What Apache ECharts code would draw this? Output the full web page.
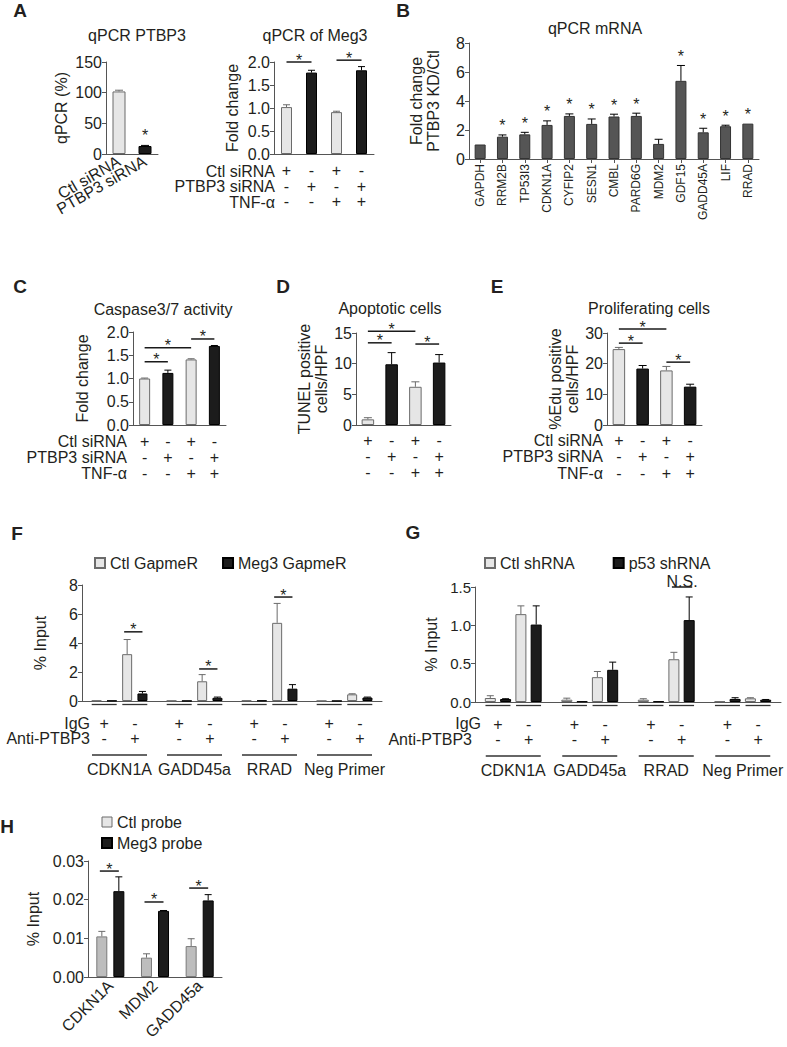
<!DOCTYPE html>
<html><head><meta charset="utf-8">
<script src="https://cdn.jsdelivr.net/npm/echarts/dist/echarts.min.js"></script>
<style>html,body{margin:0;padding:0;background:#fff}#c{width:787px;height:1047px}</style>
</head><body><div id="c"></div>
<script>
// ---------------- DATA ----------------
const a1Cats = ['Ctl siRNA', 'PTBP3 siRNA'];
const a1Vals = [102, 13];
const a1Err = [2, 1];
const a1Stars = ['', '*'];

const condCtl = ['+', '-', '+', '-'];
const condPTBP3 = ['-', '+', '-', '+'];
const condTNF = ['-', '-', '+', '+'];
const condRowNames = ['Ctl siRNA', 'PTBP3 siRNA', 'TNF-α'];

const a2Vals = [1.02, 1.77, 0.91, 1.82];
const a2Err = [0.05, 0.05, 0.02, 0.08];
const a2Sig = [[0, 1, 2.0], [2, 3, 2.04]];

const bGenes = ['GAPDH', 'RRM2B', 'TP53I3', 'CDKN1A', 'CYFIP2', 'SESN1', 'CMBL', 'PARD6G', 'MDM2', 'GDF15', 'GADD45A', 'LIF', 'RRAD'];
const bVals = [1.0, 1.54, 1.70, 2.35, 2.97, 2.42, 2.93, 2.97, 1.04, 5.39, 1.84, 2.26, 2.44];
const bErr = [0, 0.12, 0.14, 0.28, 0.14, 0.34, 0.16, 0.19, 0.32, 1.06, 0.28, 0.07, 0];
const bStars = ['', '*', '*', '*', '*', '*', '*', '*', '', '*', '*', '*', '*'];

const cVals = [1.0, 1.12, 1.41, 1.70];
const cErr = [0.01, 0.06, 0.015, 0.01];
const cSig = [[0, 1, 1.36], [0, 2, 1.66], [2, 3, 1.85]];

const dVals = [0.92, 9.9, 6.23, 10.18];
const dErr = [0.27, 1.9, 0.81, 1.3];
const dSig = [[0, 1, 13.4], [0, 2, 15.3], [2, 3, 13.2]];

const eVals = [24.75, 18.4, 17.8, 12.5];
const eErr = [0.55, 1.0, 1.3, 0.8];
const eSig = [[0, 1, 26.7], [0, 2, 31.3], [2, 3, 20.5]];

const chipGenes = ['CDKN1A', 'GADD45a', 'RRAD', 'Neg Primer'];
const chipIgG = ['+', '-'];
const chipAnti = ['-', '+'];
const chipRowNames = ['IgG', 'Anti-PTBP3'];

const fLegend = ['Ctl GapmeR', 'Meg3 GapmeR'];
const fIgGCtl = [0.03, 0.02, 0.04, 0.01];
const fIgGCtlErr = [0, 0, 0, 0];
const fIgGMeg3 = [0.02, 0.01, 0.03, 0.005];
const fIgGMeg3Err = [0, 0, 0, 0];
const fAntiCtl = [3.23, 1.36, 5.39, 0.46];
const fAntiCtlErr = [1.01, 0.46, 1.34, 0.04];
const fAntiMeg3 = [0.52, 0.22, 0.85, 0.24];
const fAntiMeg3Err = [0.14, 0.05, 0.28, 0.03];
const fSig = [[0, 4.77], [1, 2.21], [2, 7.17]];

const gLegend = ['Ctl shRNA', 'p53 shRNA'];
const gIgGCtl = [0.052, 0.03, 0.03, 0.008];
const gIgGCtlErr = [0.03, 0.02, 0.013, 0];
const gIgGP53 = [0.039, 0.008, 0.008, 0.04];
const gIgGP53Err = [0.004, 0, 0, 0.016];
const gAntiCtl = [1.146, 0.324, 0.558, 0.048];
const gAntiCtlErr = [0.108, 0.074, 0.09, 0.008];
const gAntiP53 = [1.01, 0.42, 1.068, 0.03];
const gAntiP53Err = [0.244, 0.1, 0.302, 0.003];
const gSig = [[2, 1.5, 'N.S.']];

const hCats = ['CDKN1A', 'MDM2', 'GADD45a'];
const hLegend = ['Ctl probe', 'Meg3 probe'];
const hCtl = [0.0105, 0.005, 0.008];
const hCtlErr = [0.0013, 0.001, 0.0019];
const hMeg3 = [0.0222, 0.0171, 0.0198];
const hMeg3Err = [0.0037, 0.0001, 0.0015];
const hSig = [[0, 0.0274], [1, 0.0194], [2, 0.0230]];

// ---------------- STYLE ----------------
const FONT = '"Liberation Sans", Arial, Helvetica, sans-serif';
const TXT = '#231f20';
const AX = '#555555';
const LIGHT = {color: '#e6e6e6', borderColor: '#6b6b6b', borderWidth: 1};
const DARK = {color: '#1c1c1c', borderColor: '#000000', borderWidth: 1};
const HLIGHT = {color: '#bdbdbd', borderColor: '#7a7a7a', borderWidth: 1};
const BSTYLE = {color: '#555555', borderColor: '#333333', borderWidth: 1};
const ERR_L = '#6b6b6b', ERR_D = '#000000';

const chart = echarts.init(document.getElementById('c'), null, {renderer: 'svg', width: 787, height: 1047});

function grid(left, top, width, height) {
  return {left, top, width, height, containLabel: false, outerBoundsMode: 'none'};
}
const grids = [
  grid(106, 62, 52, 92),   // 0 A1
  grid(274, 62, 100, 92),  // 1 A2
  grid(469, 43, 290, 116), // 2 B
  grid(133, 332, 93, 93),  // 3 C
  grid(356, 333, 95, 92),  // 4 D
  grid(607, 333, 95, 92),  // 5 E
  grid(82, 585, 300, 116), // 6 F
  grid(475, 587, 306, 115),// 7 G
  grid(88, 861, 134, 116)  // 8 H
];

function yAx(gi, min, max, interval, name, nameGap, fmt, fs) {
  return {
    type: 'value', gridIndex: gi, min, max, interval,
    axisLine: {show: true, lineStyle: {color: AX, width: 1}},
    axisTick: {show: true, length: 4, lineStyle: {color: AX}},
    splitLine: {show: false},
    axisLabel: {color: TXT, fontSize: fs || 16, fontFamily: FONT, margin: 4, showMinLabel: true, showMaxLabel: true,
      formatter: fmt || (v => String(v))},
    name, nameGap, nameLocation: 'middle', nameRotate: 90,
    nameTextStyle: {color: TXT, fontSize: 16, fontFamily: FONT, lineHeight: 17}
  };
}
function xAx(gi, cats, label, tick) {
  return {
    type: 'category', gridIndex: gi, data: cats, boundaryGap: true,
    axisLine: {show: true, lineStyle: {color: AX, width: 1}},
    axisTick: tick || {show: false},
    axisLabel: label || {show: false},
    splitLine: {show: false}
  };
}
function condLabel(margin, lh) {
  return {show: true, interval: 0, margin, lineHeight: lh, color: TXT, fontSize: 16, fontFamily: FONT,
    formatter: (v, i) => [condCtl[i], condPTBP3[i], condTNF[i]].join('\n')};
}
const condIdx = condCtl.map((_, i) => String(i));

const xAxes = [
  xAx(0, a1Cats, {show: true, interval: 0, rotate: 30, margin: 6, color: TXT, fontSize: 16, fontFamily: FONT}),
  xAx(1, condIdx, condLabel(9, 15.5)),
  xAx(2, bGenes, {show: true, interval: 0, rotate: 90, margin: 5, color: TXT, fontSize: 12, fontFamily: FONT},
      {show: true, alignWithLabel: true, length: 4, lineStyle: {color: AX}}),
  xAx(3, condIdx, condLabel(8, 16)),
  xAx(4, condIdx, condLabel(7, 16)),
  xAx(5, condIdx, condLabel(7, 16.5)),
  xAx(6, chipGenes),
  xAx(7, chipGenes),
  xAx(8, hCats, {show: true, interval: 0, rotate: 45, margin: 6, color: TXT, fontSize: 16, fontFamily: FONT})
];
const yAxes = [
  yAx(0, 0, 150, 50, 'qPCR (%)', 36),
  yAx(1, 0, 2, 0.5, 'Fold change', 33, v => v.toFixed(1)),
  yAx(2, 0, 8, 2, 'Fold change\nPTBP3 KD/Ctl', 27),
  yAx(3, 0, 2, 0.5, 'Fold change', 42, v => v.toFixed(1)),
  yAx(4, 0, 15, 5, 'TUNEL positive\ncells/HPF', 25),
  yAx(5, 0, 30, 10, '%Edu positive\ncells/HPF', 26),
  yAx(6, 0, 8, 2, '% Input', 33),
  yAx(7, 0, 1.5, 0.5, '% Input', 35, v => v.toFixed(1), 15),
  yAx(8, 0, 0.03, 0.01, '% Input', 46, v => v.toFixed(2))
];

// ---------- series builders ----------
function txt(text, x, y, size, align, valign, extra) {
  return Object.assign({type: 'text', x, y, style: {text, fill: TXT, font: size + 'px ' + FONT,
    align, verticalAlign: valign, textAlign: align, textVerticalAlign: valign}}, extra || {});
}
function barSeries(gi, name, vals, style, width, gap) {
  const s = {type: 'bar', name, xAxisIndex: gi, yAxisIndex: gi, barWidth: width, itemStyle: style,
    data: vals.slice(), z: 2, silent: true};
  if (gap) s.barGap = gap;
  return s;
}
function condBars(gi, vals, width) {
  return {type: 'bar', xAxisIndex: gi, yAxisIndex: gi, barWidth: width, silent: true, z: 2,
    data: vals.map((v, i) => ({value: v, itemStyle: condPTBP3[i] === '+' ? DARK : LIGHT}))};
}
function errSeries(gi, vals, errs, offset, colors, capW) {
  return {
    type: 'custom', xAxisIndex: gi, yAxisIndex: gi, z: 5, silent: true,
    data: vals.map((v, i) => [i, v, v + errs[i], errs[i]]),
    renderItem: (params, api) => {
      const e = api.value(3);
      if (!(e > 0)) return {type: 'group', children: []};
      const b = api.coord([api.value(0), api.value(1)]);
      const t = api.coord([api.value(0), api.value(2)]);
      const x = b[0] + offset;
      const col = typeof colors === 'string' ? colors : colors[params.dataIndex];
      return {type: 'group', children: [
        {type: 'line', shape: {x1: x, y1: b[1], x2: x, y2: t[1]}, style: {stroke: col, lineWidth: 1}},
        {type: 'line', shape: {x1: x - capW / 2, y1: t[1], x2: x + capW / 2, y2: t[1]}, style: {stroke: col, lineWidth: 1}}
      ]};
    }
  };
}
function sigSeries(gi, items, offA, offB) {
  return {
    type: 'custom', xAxisIndex: gi, yAxisIndex: gi, z: 6, silent: true,
    data: items.map(s => [s[0], s[1], s[2]]),
    renderItem: (params, api) => {
      const lab = items[params.dataIndex][3] || '*';
      const pa = api.coord([api.value(0), api.value(2)]);
      const pb = api.coord([api.value(1), api.value(2)]);
      const x1 = pa[0] + offA, x2 = pb[0] + offB, y = pa[1];
      const star = lab === '*';
      return {type: 'group', children: [
        {type: 'line', shape: {x1, y1: y, x2, y2: y}, style: {stroke: '#1a1a1a', lineWidth: 1.5}},
        star ? txt('*', (x1 + x2) / 2, y - 2, 16, 'center', 'middle')
             : txt(lab, (x1 + x2) / 2, y + 2, 16, 'center', 'bottom')
      ]};
    }
  };
}
function starSeries(gi, vals, errs, stars, dy) {
  return {
    type: 'custom', xAxisIndex: gi, yAxisIndex: gi, z: 6, silent: true,
    data: vals.map((v, i) => [i, v + errs[i]]),
    renderItem: (params, api) => {
      if (!stars[params.dataIndex]) return {type: 'group', children: []};
      const p = api.coord([api.value(0), api.value(1)]);
      return txt(stars[params.dataIndex], p[0], p[1] - dy, 16, 'center', 'middle');
    }
  };
}
function chipAnnot(gi, pairOff) {
  return {
    type: 'custom', xAxisIndex: gi, yAxisIndex: gi, z: 6, silent: true,
    data: chipGenes.map((g, i) => [i, 0]),
    renderItem: (params, api) => {
      const p = api.coord([api.value(0), 0]);
      const cx = p[0], y0 = p[1];
      const ch = [];
      [-pairOff, pairOff].forEach((dx, j) => {
        const px = cx + dx;
        ch.push({type: 'line', shape: {x1: px - 12.5, y1: y0 + 3.5, x2: px + 12.5, y2: y0 + 3.5}, style: {stroke: '#333', lineWidth: 1.3}});
        ch.push(txt(chipIgG[j], px, y0 + 22, 16, 'center', 'middle'));
        ch.push(txt(chipAnti[j], px, y0 + 37, 16, 'center', 'middle'));
      });
      ch.push({type: 'line', shape: {x1: cx - 27.5, y1: y0 + 54, x2: cx + 27.5, y2: y0 + 54}, style: {stroke: '#333', lineWidth: 1.3}});
      ch.push(txt(chipGenes[params.dataIndex], cx, y0 + 68, 16, 'center', 'middle'));
      return {type: 'group', children: ch};
    }
  };
}
const cond4Err = condPTBP3.map(s => s === '+' ? ERR_D : ERR_L);
const O1 = 7.65, O2 = 22.95;

const series = [
  // A1
  {type: 'bar', xAxisIndex: 0, yAxisIndex: 0, barWidth: 13, silent: true, z: 2,
   data: a1Vals.map((v, i) => ({value: v, itemStyle: i === 0 ? LIGHT : DARK}))},
  errSeries(0, a1Vals, a1Err, 0, [ERR_L, ERR_D], 8),
  starSeries(0, a1Vals, a1Err, a1Stars, 10),
  // A2
  condBars(1, a2Vals, 11),
  errSeries(1, a2Vals, a2Err, 0, cond4Err, 7),
  sigSeries(1, a2Sig, 0, 0),
  // B
  barSeries(2, 'bmrna', bVals, BSTYLE, 11),
  errSeries(2, bVals, bErr, 0, ERR_D, 8),
  starSeries(2, bVals, bErr, bStars, 9),
  // C
  condBars(3, cVals, 11),
  errSeries(3, cVals, cErr, 0, cond4Err, 7),
  sigSeries(3, cSig, 0, 0),
  // D
  condBars(4, dVals, 12.5),
  errSeries(4, dVals, dErr, 0, cond4Err, 8),
  sigSeries(4, dSig, 0, 0),
  // E
  condBars(5, eVals, 12.5),
  errSeries(5, eVals, eErr, 0, cond4Err, 8),
  sigSeries(5, eSig, 0, 0),
  // F
  barSeries(6, fLegend[0], fIgGCtl, LIGHT, 10, '53%'),
  barSeries(6, fLegend[1], fIgGMeg3, DARK, 10, '53%'),
  barSeries(6, fLegend[0], fAntiCtl, LIGHT, 10, '53%'),
  barSeries(6, fLegend[1], fAntiMeg3, DARK, 10, '53%'),
  errSeries(6, fIgGCtl, fIgGCtlErr, -O2, ERR_L, 7),
  errSeries(6, fIgGMeg3, fIgGMeg3Err, -O1, ERR_D, 7),
  errSeries(6, fAntiCtl, fAntiCtlErr, O1, ERR_L, 7),
  errSeries(6, fAntiMeg3, fAntiMeg3Err, O2, ERR_D, 7),
  sigSeries(6, fSig.map(s => [s[0], s[0], s[1], '*']), O1 - 3, O2),
  chipAnnot(6, 15.3),
  // G
  barSeries(7, gLegend[0], gIgGCtl, LIGHT, 11, '39%'),
  barSeries(7, gLegend[1], gIgGP53, DARK, 11, '39%'),
  barSeries(7, gLegend[0], gAntiCtl, LIGHT, 11, '39%'),
  barSeries(7, gLegend[1], gAntiP53, DARK, 11, '39%'),
  errSeries(7, gIgGCtl, gIgGCtlErr, -O2, ERR_L, 7),
  errSeries(7, gIgGP53, gIgGP53Err, -O1, ERR_D, 7),
  errSeries(7, gAntiCtl, gAntiCtlErr, O1, ERR_L, 7),
  errSeries(7, gAntiP53, gAntiP53Err, O2, ERR_D, 7),
  sigSeries(7, gSig.map(s => [s[0], s[0], s[1], s[2]]), O1 - 2, O2 + 3),
  chipAnnot(7, 15.3),
  // H
  barSeries(8, hLegend[0], hCtl, HLIGHT, 11, '55%'),
  barSeries(8, hLegend[1], hMeg3, DARK, 11, '55%'),
  errSeries(8, hCtl, hCtlErr, -8.5, ERR_L, 7),
  errSeries(8, hMeg3, hMeg3Err, 8.5, ERR_D, 7),
  sigSeries(8, hSig.map(s => [s[0], s[0], s[1], '*']), -10.5, 8.5)
];

function legend(names, left, top, gap, orient, firstStyle) {
  return {
    data: names.map((n, i) => (i === 0 && firstStyle) ? {name: n, itemStyle: firstStyle} : n),
    left, top, orient: orient || 'horizontal', itemGap: gap, itemWidth: 10, itemHeight: 10,
    icon: 'rect', padding: 0, selectedMode: false,
    textStyle: {color: TXT, fontSize: 16, fontFamily: FONT, lineHeight: 18}
  };
}
const legends = [
  legend(fLegend, 94, 554, 24),
  legend(gLegend, 484, 554, 38),
  legend(hLegend, 101, 813, 3, 'vertical', LIGHT)
];

// --------- graphic texts ---------
function gtext(text, x, y, size, align, bold) {
  return {type: 'text', x, y, silent: true, style: {text, fill: TXT,
    font: (bold ? 'bold ' : '') + size + 'px ' + FONT, align, verticalAlign: 'middle', textAlign: align, textVerticalAlign: 'middle'}};
}
const graphics = [
  gtext('A', 20, 10, 19, 'center', true),
  gtext('B', 403, 10, 19, 'center', true),
  gtext('C', 20, 286, 19, 'center', true),
  gtext('D', 283, 286, 19, 'center', true),
  gtext('E', 497, 286, 19, 'center', true),
  gtext('F', 17, 533, 19, 'center', true),
  gtext('G', 413, 532, 19, 'center', true),
  gtext('H', 7, 826, 19, 'center', true),
  gtext('qPCR PTBP3', 137, 35, 16, 'center'),
  gtext('qPCR of Meg3', 315, 35, 16, 'center'),
  gtext('qPCR mRNA', 595, 28, 16, 'center'),
  gtext('Caspase3/7 activity', 163, 309, 16, 'center'),
  gtext('Apoptotic cells', 390, 308, 16, 'center'),
  gtext('Proliferating cells', 649, 308, 16, 'center')
];
[[275, [171, 186.5, 202]], [127, [441, 457, 473]], [603, [440, 456.5, 473]]].forEach(([xr, ys]) => {
  condRowNames.forEach((n, i) => graphics.push(gtext(n, xr, ys[i], 16, 'right')));
});
[[90, 90, [723, 738]], [481, 472, [723, 739]]].forEach(([x1, x2, ys]) => {
  graphics.push(gtext(chipRowNames[0], x1, ys[0], 16, 'right'));
  graphics.push(gtext(chipRowNames[1], x2, ys[1], 16, 'right'));
});

chart.setOption({
  animation: false,
  backgroundColor: '#ffffff',
  textStyle: {fontFamily: FONT},
  grid: grids,
  xAxis: xAxes,
  yAxis: yAxes,
  legend: legends,
  series,
  graphic: graphics
});
</script></body></html>
